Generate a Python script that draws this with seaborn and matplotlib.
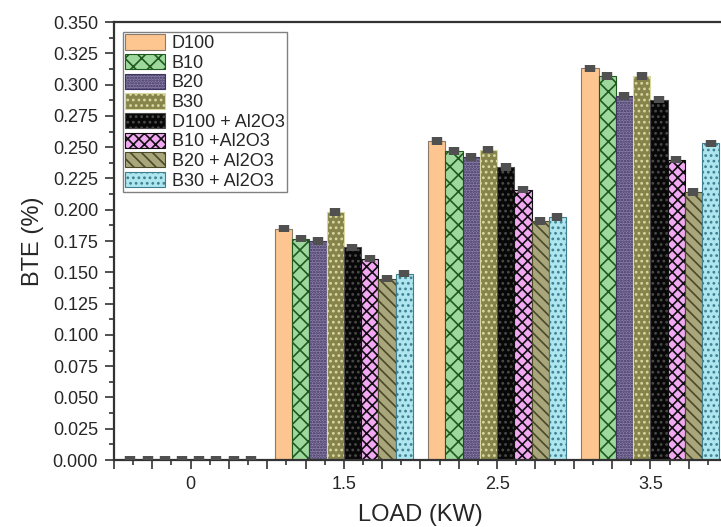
import numpy as np
import pandas as pd
import matplotlib
matplotlib.use("Agg")
import matplotlib.pyplot as plt
from matplotlib.ticker import FixedLocator, MultipleLocator
import seaborn as sns

# ---- data ----
loads = ["0", "1.5", "2.5", "3.5"]
series = ["D100", "B10", "B20", "B30", "D100 + Al2O3", "B10 +Al2O3", "B20 + Al2O3", "B30 + Al2O3"]
d100      = [0.0, 0.185, 0.255, 0.313]
b10       = [0.0, 0.177, 0.247, 0.307]
b20       = [0.0, 0.175, 0.242, 0.291]
b30       = [0.0, 0.198, 0.248, 0.307]
d100_al   = [0.0, 0.170, 0.234, 0.288]
b10_al    = [0.0, 0.161, 0.216, 0.240]
b20_al    = [0.0, 0.145, 0.191, 0.214]
b30_al    = [0.0, 0.149, 0.194, 0.253]
err       = 0.003

values = [d100, b10, b20, b30, d100_al, b10_al, b20_al, b30_al]

face_colors  = ["#FDC590", "#9FD89C", "#8C80A8", "#86844A", "#080808", "#F2A8F2", "#A8A67A", "#AEE6F0"]
hatch_colors = ["#8A7A6A", "#1E5A1E", "#3E3460", "#D8D8A0", "#4A4A4A", "#101010", "#4A4A2A", "#3F7F8F"]
hatches      = ["", "xx", "......", "...", "...", "xxx", "\\\\\\", "..."]

rows = []
for s, vals in zip(series, values):
    for l, v in zip(loads, vals):
        rows.append({"LOAD": l, "BTE": v, "fuel": s})
df = pd.DataFrame(rows)

sns.set_style("ticks")
plt.rcParams["font.family"] = ["Liberation Sans", "DejaVu Sans"]
plt.rcParams["hatch.linewidth"] = 1.2

fig, ax = plt.subplots(figsize=(7.21, 5.27), dpi=100)
ax.set_position([0.1581, 0.1271, 0.8502, 0.8311])

sns.barplot(data=df, x="LOAD", y="BTE", hue="fuel", order=loads, hue_order=series,
            palette=face_colors, width=0.9, errorbar=None, legend=False,
            saturation=1, ax=ax, linewidth=0.8)

for cont, hc, h in zip(ax.containers, hatch_colors, hatches):
    for p in cont.patches:
        p.set_hatch(h)
        if h:
            p.set_edgecolor(hc)
        else:
            p.set_edgecolor("#8A7A6A")
        p.set_linewidth(0.8)
    xs = [p.get_x() + p.get_width() / 2 for p in cont.patches]
    ys = [p.get_height() for p in cont.patches]
    ax.errorbar(xs, ys, yerr=err, fmt="none", ecolor="#505050",
                elinewidth=7.5, capsize=0, zorder=5)

ax.set_xlim(-0.5, 3.5)
ax.set_ylim(0, 0.35)

major_x = np.arange(-0.5, 3.51, 0.25)
ax.xaxis.set_major_locator(FixedLocator(major_x))
ax.xaxis.set_minor_locator(FixedLocator(major_x[:-1] + 0.125))
ax.set_xticklabels([loads[int(round(t))] if abs(t - round(t)) < 1e-6 and 0 <= round(t) <= 3 else ""
                    for t in major_x])
ax.yaxis.set_major_locator(MultipleLocator(0.025))
ax.yaxis.set_minor_locator(MultipleLocator(0.0125))
ax.set_yticklabels([f"{v:.3f}" for v in ax.get_yticks()])

ax.tick_params(axis="both", which="major", direction="out", length=6.5, width=1.2,
               labelsize=13, color="#333333", pad=5)
ax.tick_params(axis="both", which="minor", direction="out", length=3.5, width=1.2, color="#333333")
ax.tick_params(top=False, right=False, which="both")

for sp in ax.spines.values():
    sp.set_visible(True)
    sp.set_linewidth(1.6)
    sp.set_color("#333333")

ax.set_xlabel("LOAD (KW)", fontsize=17, labelpad=8)
ax.set_ylabel("BTE (%)", fontsize=17, labelpad=6)

leg = ax.legend(ax.containers, series, loc="upper left", bbox_to_anchor=(0.0142, 0.978),
                borderaxespad=0, fontsize=13, frameon=True, fancybox=False, framealpha=1,
                edgecolor="#808080", handlelength=2.2, handleheight=0.92,
                handletextpad=0.37, borderpad=0.15, labelspacing=0.1)
leg.get_frame().set_linewidth(1.0)

fig.savefig("out.png", dpi=100)
